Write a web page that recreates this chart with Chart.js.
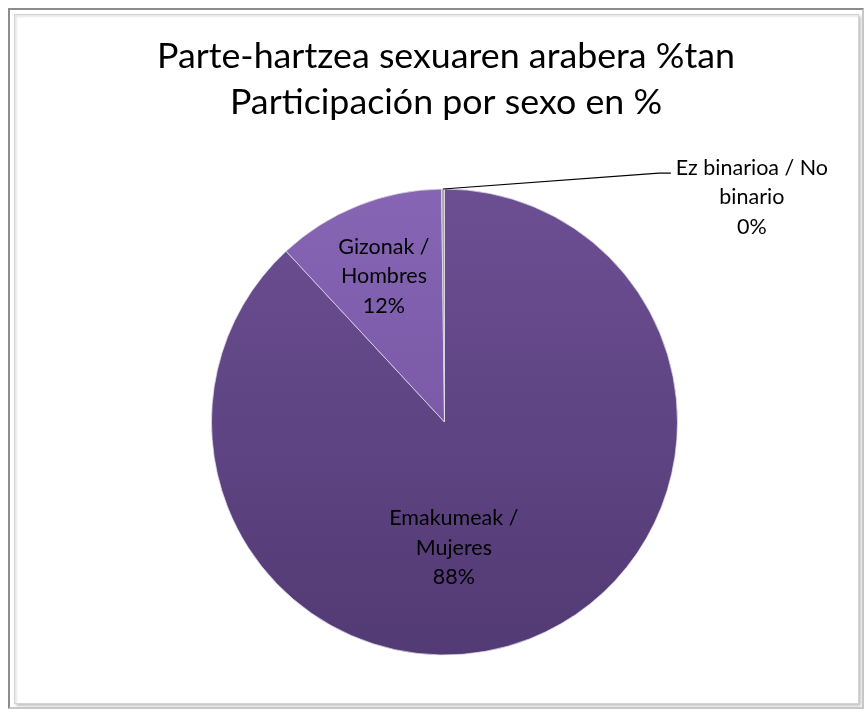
<!DOCTYPE html>
<html>
<head>
<meta charset="utf-8">
<script src="https://cdn.jsdelivr.net/npm/chart.js@4/dist/chart.umd.min.js"></script>
<style>
  html, body { margin: 0; padding: 0; background: #ffffff; }
  #wrap { position: relative; width: 866px; height: 715px; overflow: hidden; }
  #outer { position: absolute; left: 8px; top: 8px; width: 852px; height: 697px;
           border-top: 2px solid #8c8c8c; border-left: 2px solid #8c8c8c;
           border-right: 2px solid #c8c8c8; border-bottom: 2px solid #c8c8c8; }
  #inner { position: absolute; left: 14px; top: 14px; width: 843px; height: 688px;
           border: 1px solid #d4d4d4; box-shadow: inset 2px 2px 2px #e8e8e8, 2px 2px 3px #c0c0c0; }
  canvas { position: absolute; left: 0; top: 0; }
</style>
</head>
<body>
<div id="wrap">
  <div id="outer"></div>
  <div id="inner"></div>
  <canvas id="c" width="866" height="715"></canvas>
</div>
<script>
// ---- data ----
const titleLines = ["Parte-hartzea sexuaren arabera %tan", "Participación por sexo en %"];
const categories = [
  ["Emakumeak /", "Mujeres"],
  ["Gizonak /", "Hombres"],
  ["Ez binarioa / No", "binario"]
];
const values = [88.1, 11.7, 0.2];

// ---- styles ----
const FONT = "Lato, 'Open Sans', sans-serif";
const topColors = ["#6c4f93", "#8665b4", "#a8a8a8"];
const bottomColors = ["#523a74", "#6f4f9c", "#8a8a8a"];

function sliceFill(ctx) {
  const chart = ctx.chart;
  const area = chart.chartArea;
  if (!area) return topColors[ctx.dataIndex];
  const g = chart.ctx.createLinearGradient(0, area.top, 0, area.bottom);
  g.addColorStop(0, topColors[ctx.dataIndex]);
  g.addColorStop(1, bottomColors[ctx.dataIndex]);
  return g;
}

// relative label anchors (fractions of radius from pie centre)
const labelOffsets = [[0.04, 0.54], [-0.26, -0.625], [1.319, -0.965]];

function fitText(ctx, text, x, y, targetW) {
  const w = ctx.measureText(text).width;
  const s = targetW / w;
  ctx.save();
  ctx.translate(x, y);
  ctx.scale(s, 1);
  ctx.fillText(text, 0, 0);
  ctx.restore();
}

const labelPlugin = {
  id: 'labelsAndTitle',
  afterDraw(chart) {
    const ctx = chart.ctx;
    ctx.save();
    // title
    ctx.fillStyle = '#000000';
    ctx.textAlign = 'center';
    ctx.textBaseline = 'middle';
    ctx.font = "34px " + FONT;
    const w0 = ctx.measureText(titleLines[0]).width;
    const s = 578 / w0;
    fitText(ctx, titleLines[0], 446, 57, w0 * s);
    fitText(ctx, titleLines[1], 446, 103, ctx.measureText(titleLines[1]).width * s);

    const meta = chart.getDatasetMeta(0);
    const total = values.reduce((a, b) => a + b, 0);
    ctx.font = "21.5px " + FONT;
    meta.data.forEach((arc, i) => {
      const p = arc.getProps(['x', 'y', 'outerRadius', 'startAngle', 'endAngle'], true);
      const r = p.outerRadius;
      const cx = p.x + labelOffsets[i][0] * r;
      const cy = p.y + labelOffsets[i][1] * r;
      const pct = Math.round(values[i] / total * 100) + "%";
      const lines = categories[i].concat([pct]);
      const lh = 29.5;
      lines.forEach((t, k) => {
        ctx.fillText(t, cx, cy + (k - 1) * lh);
      });
      if (i === 2) {
        const mid = (p.startAngle + p.endAngle) / 2;
        const sx = p.x + Math.cos(mid) * r;
        const sy = p.y + Math.sin(mid) * r;
        const ex = cx - 93, ey = cy - 24;
        ctx.strokeStyle = '#000000';
        ctx.lineWidth = 1.2;
        ctx.beginPath();
        ctx.moveTo(sx, sy);
        ctx.lineTo(ex, ey);
        ctx.lineTo(ex + 12, ey);
        ctx.stroke();
      }
    });
    ctx.restore();
  }
};

new Chart(document.getElementById('c'), {
  type: 'pie',
  data: {
    labels: categories.map(c => c.join(' ')),
    datasets: [{
      data: values,
      backgroundColor: sliceFill,
      borderColor: 'rgba(225,220,235,0.75)',
      borderWidth: 1
    }]
  },
  options: {
    responsive: false,
    animation: false,
    layout: { padding: { left: 211, right: 188, top: 188, bottom: 59 } },
    plugins: {
      legend: { display: false },
      tooltip: { enabled: false },
      title: { display: false }
    }
  },
  plugins: [labelPlugin]
});
</script>
</body>
</html>
